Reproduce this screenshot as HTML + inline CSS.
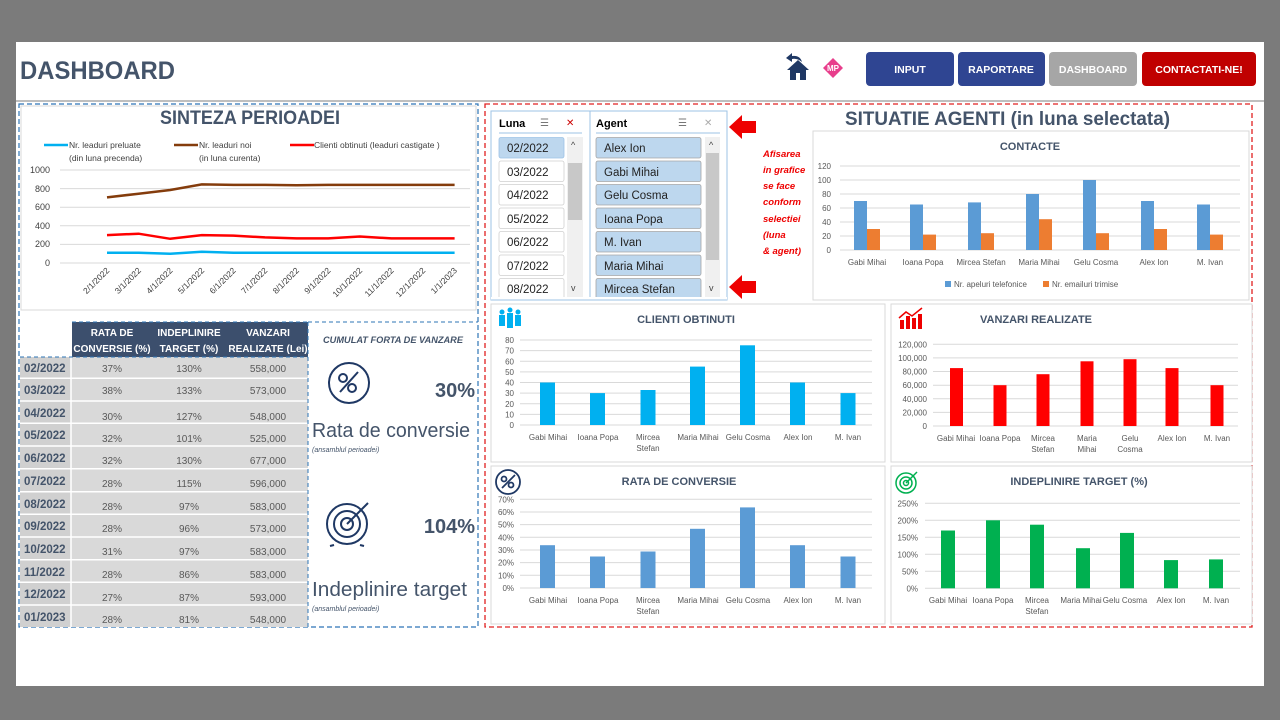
<!DOCTYPE html>
<html><head><meta charset="utf-8"><style>
html,body{margin:0;padding:0;background:#7b7b7b;}
svg{display:block;font-family:"Liberation Sans",sans-serif;}
.t{fill:#44546a;font-weight:bold}
.ax{font-size:8px;fill:#595959}
.g{stroke:#d9d9d9;stroke-width:1}
</style></head><body>
<svg width="1280" height="720" viewBox="0 0 1280 720" xmlns="http://www.w3.org/2000/svg">
<rect x="0" y="0" width="1280" height="720" fill="#7b7b7b"/>
<rect x="16" y="42" width="1248" height="644" fill="#fff"/>
<rect x="16" y="100" width="1248" height="2" fill="#bfbfbf"/>
<text x="20" y="79" class="t" font-size="25" textLength="155" lengthAdjust="spacingAndGlyphs">DASHBOARD</text>
<!-- icons -->
<g fill="#1f3864"><path d="M787 70 L798 60 L809 70 L806 70 L806 80 L800 80 L800 73 L796 73 L796 80 L790 80 L790 70Z"/><path d="M786 58 L792 53 L792 56 Q800 55 802 62 Q797 58 792 59 L792 62Z"/></g>
<path d="M833 58 L843 68 L833 78 L823 68Z" fill="#e83e8c"/><text x="833" y="71" font-size="8" font-weight="bold" fill="#fff" text-anchor="middle">MP</text>
<!-- buttons -->
<rect x="866" y="52" width="88" height="34" rx="4" fill="#2f4592"/><text x="910" y="73" font-size="10.5" font-weight="bold" fill="#fff" text-anchor="middle">INPUT</text>
<rect x="958" y="52" width="87" height="34" rx="4" fill="#2f4592"/><text x="1001" y="73" font-size="10.5" font-weight="bold" fill="#fff" text-anchor="middle">RAPORTARE</text>
<rect x="1049" y="52" width="88" height="34" rx="4" fill="#a6a6a6"/><text x="1093" y="73" font-size="10.5" font-weight="bold" fill="#fff" text-anchor="middle">DASHBOARD</text>
<rect x="1142" y="52" width="114" height="34" rx="4" fill="#c00000"/><text x="1199" y="73" font-size="10.5" font-weight="bold" fill="#fff" text-anchor="middle">CONTACTATI-NE!</text>

<!-- LEFT -->
<rect x="19" y="104" width="459" height="523" fill="none" stroke="#2e75b6" stroke-dasharray="5,3" stroke-width="1.2"/>
<rect x="21" y="106" width="455" height="204" fill="#fff" stroke="#d9d9d9"/>
<text x="160" y="124" class="t" font-size="19" textLength="180" lengthAdjust="spacingAndGlyphs">SINTEZA PERIOADEI</text>
<g font-size="8.5" fill="#404040">
<line x1="44" y1="145" x2="68" y2="145" stroke="#00b0f0" stroke-width="2.5"/><text x="69" y="148">Nr. leaduri preluate</text><text x="69" y="161">(din luna precenda)</text>
<line x1="174" y1="145" x2="198" y2="145" stroke="#843c0c" stroke-width="2.5"/><text x="199" y="148">Nr. leaduri noi</text><text x="199" y="161">(in luna curenta)</text>
<line x1="290" y1="145" x2="314" y2="145" stroke="#ff0000" stroke-width="2.5"/><text x="314" y="148">Clienti obtinuti (leaduri castigate )</text>
</g>
<g class="g"><line x1="60" y1="170" x2="470" y2="170"/><line x1="60" y1="188.6" x2="470" y2="188.6"/><line x1="60" y1="207.2" x2="470" y2="207.2"/><line x1="60" y1="225.8" x2="470" y2="225.8"/><line x1="60" y1="244.4" x2="470" y2="244.4"/><line x1="60" y1="263" x2="470" y2="263"/></g>
<g font-size="9" fill="#404040" text-anchor="end"><text x="50" y="173">1000</text><text x="50" y="192">800</text><text x="50" y="210">600</text><text x="50" y="229">400</text><text x="50" y="247">200</text><text x="50" y="266">0</text></g>
<polyline fill="none" stroke="#843c0c" stroke-width="2.5" points="107,197.4 138.6,193.7 170.2,190 201.8,184.4 233.4,184.9 265,184.9 296.6,185.3 328.2,184.9 359.8,184.9 391.4,184.9 423,184.9 454.6,184.9"/>
<polyline fill="none" stroke="#ff0000" stroke-width="2.5" points="107,235.1 138.6,233.7 170.2,238.8 201.8,235.1 233.4,235.6 265,237.4 296.6,238.4 328.2,238.4 359.8,236.5 391.4,238.4 423,238.4 454.6,238.4"/>
<polyline fill="none" stroke="#00b0f0" stroke-width="2.5" points="107,252.8 138.6,252.8 170.2,253.7 201.8,251.8 233.4,252.8 265,252.8 296.6,252.8 328.2,252.8 359.8,252.8 391.4,252.8 423,252.8 454.6,252.8"/>
<g font-size="8.5" fill="#404040" text-anchor="end">
<text transform="translate(110,271) rotate(-45)">2/1/2022</text><text transform="translate(141.6,271) rotate(-45)">3/1/2022</text><text transform="translate(173.2,271) rotate(-45)">4/1/2022</text><text transform="translate(204.8,271) rotate(-45)">5/1/2022</text><text transform="translate(236.4,271) rotate(-45)">6/1/2022</text><text transform="translate(268,271) rotate(-45)">7/1/2022</text><text transform="translate(299.6,271) rotate(-45)">8/1/2022</text><text transform="translate(331.2,271) rotate(-45)">9/1/2022</text><text transform="translate(362.8,271) rotate(-45)">10/1/2022</text><text transform="translate(394.4,271) rotate(-45)">11/1/2022</text><text transform="translate(426,271) rotate(-45)">12/1/2022</text><text transform="translate(457.6,271) rotate(-45)">1/1/2023</text>
</g>
<!-- table -->
<rect x="72" y="322" width="236" height="35" fill="#3c4f6d"/>
<g font-size="10" font-weight="bold" fill="#fff" text-anchor="middle"><text x="112" y="336">RATA DE</text><text x="112" y="352">CONVERSIE (%)</text><text x="189" y="336">INDEPLINIRE</text><text x="189" y="352">TARGET (%)</text><text x="268" y="336">VANZARI</text><text x="268" y="352">REALIZATE (Lei)</text></g>
<rect x="20" y="357" width="288" height="270" fill="#d9d9d9"/>
<rect x="20" y="357" width="51" height="270" fill="#d0d0d0"/>
<g stroke="#fff" stroke-width="1.5"><line x1="20" y1="378.3" x2="308" y2="378.3"/><line x1="20" y1="401" x2="308" y2="401"/><line x1="20" y1="423.3" x2="308" y2="423.3"/><line x1="20" y1="446" x2="308" y2="446"/><line x1="20" y1="468.7" x2="308" y2="468.7"/><line x1="20" y1="491.7" x2="308" y2="491.7"/><line x1="20" y1="514.3" x2="308" y2="514.3"/><line x1="20" y1="537" x2="308" y2="537"/><line x1="20" y1="559.7" x2="308" y2="559.7"/><line x1="20" y1="582.3" x2="308" y2="582.3"/><line x1="20" y1="605" x2="308" y2="605"/><line x1="71" y1="357" x2="71" y2="627"/></g>
<line x1="20" y1="357" x2="308" y2="357" stroke="#2e75b6" stroke-dasharray="4,3"/>
<g font-size="11.5" font-weight="bold" fill="#44546a"><text x="24" y="372">02/2022</text><text x="24" y="394">03/2022</text><text x="24" y="417">04/2022</text><text x="24" y="439">05/2022</text><text x="24" y="462">06/2022</text><text x="24" y="485">07/2022</text><text x="24" y="508">08/2022</text><text x="24" y="530">09/2022</text><text x="24" y="553">10/2022</text><text x="24" y="576">11/2022</text><text x="24" y="598">12/2022</text><text x="24" y="621">01/2023</text></g>
<g font-size="10" fill="#595959" text-anchor="middle">
<text x="112" y="372">37%</text><text x="189" y="372">130%</text><text x="268" y="372">558,000</text>
<text x="112" y="394">38%</text><text x="189" y="394">133%</text><text x="268" y="394">573,000</text>
<text x="112" y="420">30%</text><text x="189" y="420">127%</text><text x="268" y="420">548,000</text>
<text x="112" y="442">32%</text><text x="189" y="442">101%</text><text x="268" y="442">525,000</text>
<text x="112" y="464">32%</text><text x="189" y="464">130%</text><text x="268" y="464">677,000</text>
<text x="112" y="487">28%</text><text x="189" y="487">115%</text><text x="268" y="487">596,000</text>
<text x="112" y="510">28%</text><text x="189" y="510">97%</text><text x="268" y="510">583,000</text>
<text x="112" y="532">28%</text><text x="189" y="532">96%</text><text x="268" y="532">573,000</text>
<text x="112" y="555">31%</text><text x="189" y="555">97%</text><text x="268" y="555">583,000</text>
<text x="112" y="578">28%</text><text x="189" y="578">86%</text><text x="268" y="578">583,000</text>
<text x="112" y="601">27%</text><text x="189" y="601">87%</text><text x="268" y="601">593,000</text>
<text x="112" y="623">28%</text><text x="189" y="623">81%</text><text x="268" y="623">548,000</text>
</g>
<line x1="308" y1="322" x2="308" y2="627" stroke="#2e75b6" stroke-dasharray="4,3"/>
<line x1="308" y1="322" x2="478" y2="322" stroke="#2e75b6" stroke-dasharray="4,3"/>
<line x1="72" y1="322" x2="308" y2="322" stroke="#2e75b6" stroke-dasharray="4,3"/>
<text x="323" y="343" font-size="9" font-style="italic" font-weight="bold" fill="#44546a" textLength="140" lengthAdjust="spacingAndGlyphs">CUMULAT FORTA DE VANZARE</text>
<g fill="none" stroke="#1f3864" stroke-width="2"><circle cx="349" cy="383" r="20"/><circle cx="343" cy="378" r="4"/><circle cx="352" cy="388" r="4"/><line x1="340" y1="392" x2="358" y2="372"/></g>
<text x="475" y="397" font-size="20" font-weight="bold" fill="#44546a" text-anchor="end">30%</text>
<text x="312" y="437" font-size="20.5" fill="#44546a" textLength="158" lengthAdjust="spacingAndGlyphs">Rata de conversie</text>
<text x="312" y="452" font-size="7" font-style="italic" fill="#44546a">(ansamblul perioadei)</text>
<g fill="none" stroke="#1f3864" stroke-width="2"><circle cx="347" cy="524" r="20"/><circle cx="347" cy="524" r="13"/><circle cx="347" cy="524" r="6"/><line x1="347" y1="524" x2="368" y2="503"/><line x1="334" y1="545" x2="330" y2="546"/><line x1="360" y1="545" x2="364" y2="546"/></g>
<text x="475" y="533" font-size="20" font-weight="bold" fill="#44546a" text-anchor="end">104%</text>
<text x="312" y="596" font-size="20.5" fill="#44546a" textLength="155" lengthAdjust="spacingAndGlyphs">Indeplinire target</text>
<text x="312" y="611" font-size="7" font-style="italic" fill="#44546a">(ansamblul perioadei)</text>

<!-- RIGHT -->
<rect x="485" y="104" width="767" height="523" fill="none" stroke="#e02020" stroke-dasharray="5,3" stroke-width="1.3"/>
<!-- slicers -->
<rect x="491" y="111" width="236" height="189" fill="#fff" stroke="#9dc3e6"/>
<line x1="590" y1="111" x2="590" y2="300" stroke="#9dc3e6"/>
<text x="499" y="127" font-size="11" font-weight="bold" fill="#000">Luna</text>
<text x="596" y="127" font-size="11" font-weight="bold" fill="#000">Agent</text>
<text x="540" y="126" font-size="10" fill="#777">☰</text><text x="566" y="126" font-size="10" fill="#c00">✕</text>
<text x="678" y="126" font-size="10" fill="#777">☰</text><text x="704" y="126" font-size="10" fill="#aaa">✕</text>
<line x1="499" y1="133" x2="582" y2="133" stroke="#9dc3e6"/><line x1="596" y1="133" x2="720" y2="133" stroke="#9dc3e6"/>
<rect x="567" y="137" width="16" height="160" fill="#f0f0f0"/><rect x="568" y="163" width="14" height="57" fill="#c8c8c8"/>
<rect x="705" y="137" width="15" height="160" fill="#f0f0f0"/><rect x="706" y="153" width="13" height="107" fill="#c8c8c8"/>
<text x="571" y="148" font-size="9" fill="#444">^</text><text x="571" y="291" font-size="9" fill="#444">v</text>
<text x="709" y="148" font-size="9" fill="#444">^</text><text x="709" y="291" font-size="9" fill="#444">v</text>
<g stroke="#a6a6a6" stroke-width="0.8">
<rect x="499" y="137.5" width="65" height="20.5" rx="2" fill="#bdd7ee" stroke="#9dc3e6"/>
<rect x="499" y="161" width="65" height="20.5" rx="2" fill="#fff" stroke="#d0d0d0"/>
<rect x="499" y="184.5" width="65" height="20.5" rx="2" fill="#fff" stroke="#d0d0d0"/>
<rect x="499" y="208" width="65" height="20.5" rx="2" fill="#fff" stroke="#d0d0d0"/>
<rect x="499" y="231.5" width="65" height="20.5" rx="2" fill="#fff" stroke="#d0d0d0"/>
<rect x="499" y="255" width="65" height="20.5" rx="2" fill="#fff" stroke="#d0d0d0"/>
<rect x="499" y="278.5" width="65" height="20.5" rx="2" fill="#fff" stroke="#d0d0d0"/>
<rect x="596" y="137.5" width="105" height="20.5" rx="2" fill="#bdd7ee"/>
<rect x="596" y="161" width="105" height="20.5" rx="2" fill="#bdd7ee"/>
<rect x="596" y="184.5" width="105" height="20.5" rx="2" fill="#bdd7ee"/>
<rect x="596" y="208" width="105" height="20.5" rx="2" fill="#bdd7ee"/>
<rect x="596" y="231.5" width="105" height="20.5" rx="2" fill="#bdd7ee"/>
<rect x="596" y="255" width="105" height="20.5" rx="2" fill="#bdd7ee"/>
<rect x="596" y="278.5" width="105" height="20.5" rx="2" fill="#bdd7ee"/>
</g>
<rect x="491" y="297" width="236" height="4" fill="#fff"/>
<line x1="491" y1="300" x2="727" y2="300" stroke="#9dc3e6"/>
<g font-size="11.5" fill="#222"><text x="507" y="152">02/2022</text><text x="507" y="176">03/2022</text><text x="507" y="199">04/2022</text><text x="507" y="223">05/2022</text><text x="507" y="246">06/2022</text><text x="507" y="270">07/2022</text><text x="507" y="293">08/2022</text>
<text x="604" y="152">Alex Ion</text><text x="604" y="176">Gabi Mihai</text><text x="604" y="199">Gelu Cosma</text><text x="604" y="223">Ioana Popa</text><text x="604" y="246">M. Ivan</text><text x="604" y="270">Maria Mihai</text><text x="604" y="293">Mircea Stefan</text></g>
<path d="M729 127 L742 115 L742 121 L756 121 L756 133 L742 133 L742 139Z" fill="#e00"/>
<path d="M729 287 L742 275 L742 281 L756 281 L756 293 L742 293 L742 299Z" fill="#e00"/>
<g font-size="9.5" font-style="italic" font-weight="bold" fill="#e00"><text x="763" y="157">Afisarea</text><text x="763" y="173">in grafice</text><text x="763" y="189">se face</text><text x="763" y="205">conform</text><text x="763" y="222">selectiei</text><text x="763" y="238">(luna</text><text x="763" y="254">&amp; agent)</text></g>
<text x="845" y="125" class="t" font-size="19" textLength="325" lengthAdjust="spacingAndGlyphs">SITUATIE AGENTI (in luna selectata)</text>

<!-- Contacte -->
<rect x="813" y="131" width="436" height="169" fill="#fff" stroke="#d9d9d9"/>
<text x="1030" y="150" class="t" font-size="11" text-anchor="middle">CONTACTE</text>
<g class="g"><line x1="840" y1="166" x2="1240" y2="166"/><line x1="840" y1="180" x2="1240" y2="180"/><line x1="840" y1="194" x2="1240" y2="194"/><line x1="840" y1="208" x2="1240" y2="208"/><line x1="840" y1="222" x2="1240" y2="222"/><line x1="840" y1="236" x2="1240" y2="236"/><line x1="840" y1="250" x2="1240" y2="250"/></g>
<g class="ax" text-anchor="end"><text x="831" y="169">120</text><text x="831" y="183">100</text><text x="831" y="197">80</text><text x="831" y="211">60</text><text x="831" y="225">40</text><text x="831" y="239">20</text><text x="831" y="253">0</text></g>
<g fill="#5b9bd5"><rect x="854" y="201" width="13" height="49"/><rect x="910" y="204.5" width="13" height="45.5"/><rect x="968" y="202.4" width="13" height="47.6"/><rect x="1026" y="194" width="13" height="56"/><rect x="1083" y="180" width="13" height="70"/><rect x="1141" y="201" width="13" height="49"/><rect x="1197" y="204.5" width="13" height="45.5"/></g>
<g fill="#ed7d31"><rect x="867" y="229" width="13" height="21"/><rect x="923" y="234.6" width="13" height="15.4"/><rect x="981" y="233.2" width="13" height="16.8"/><rect x="1039" y="219.2" width="13" height="30.8"/><rect x="1096" y="233.2" width="13" height="16.8"/><rect x="1154" y="229" width="13" height="21"/><rect x="1210" y="234.6" width="13" height="15.4"/></g>
<g class="ax" text-anchor="middle"><text x="867" y="265">Gabi Mihai</text><text x="923" y="265">Ioana Popa</text><text x="981" y="265">Mircea Stefan</text><text x="1039" y="265">Maria Mihai</text><text x="1096" y="265">Gelu Cosma</text><text x="1154" y="265">Alex Ion</text><text x="1210" y="265">M. Ivan</text></g>
<rect x="945" y="281" width="6" height="6" fill="#5b9bd5"/><text x="954" y="287" class="ax">Nr. apeluri telefonice</text>
<rect x="1043" y="281" width="6" height="6" fill="#ed7d31"/><text x="1052" y="287" class="ax">Nr. emailuri trimise</text>

<!-- Clienti -->
<rect x="491" y="304" width="394" height="158" fill="#fff" stroke="#d9d9d9"/>
<text x="686" y="323" class="t" font-size="11" text-anchor="middle">CLIENTI OBTINUTI</text>
<g fill="#00b0f0"><circle cx="502" cy="312" r="2.5"/><circle cx="510" cy="310" r="2.5"/><circle cx="518" cy="312" r="2.5"/><rect x="499" y="315" width="6" height="11"/><rect x="507" y="313" width="6" height="15"/><rect x="515" y="315" width="6" height="11"/></g>
<g class="g"><line x1="520" y1="340" x2="872" y2="340"/><line x1="520" y1="350.6" x2="872" y2="350.6"/><line x1="520" y1="361.3" x2="872" y2="361.3"/><line x1="520" y1="371.9" x2="872" y2="371.9"/><line x1="520" y1="382.5" x2="872" y2="382.5"/><line x1="520" y1="393.1" x2="872" y2="393.1"/><line x1="520" y1="403.8" x2="872" y2="403.8"/><line x1="520" y1="414.4" x2="872" y2="414.4"/><line x1="520" y1="425" x2="872" y2="425"/></g>
<g class="ax" text-anchor="end"><text x="514" y="343">80</text><text x="514" y="353.6">70</text><text x="514" y="364.3">60</text><text x="514" y="374.9">50</text><text x="514" y="385.5">40</text><text x="514" y="396.1">30</text><text x="514" y="406.8">20</text><text x="514" y="417.4">10</text><text x="514" y="428">0</text></g>
<g fill="#00b0f0"><rect x="540" y="382.5" width="15" height="42.5"/><rect x="590" y="393.1" width="15" height="31.9"/><rect x="640.5" y="390" width="15" height="35"/><rect x="690" y="366.6" width="15" height="58.4"/><rect x="740" y="345.3" width="15" height="79.7"/><rect x="790" y="382.5" width="15" height="42.5"/><rect x="840.5" y="393.1" width="15" height="31.9"/></g>
<g class="ax" text-anchor="middle"><text x="548" y="440">Gabi Mihai</text><text x="598" y="440">Ioana Popa</text><text x="648" y="440">Mircea</text><text x="648" y="451">Stefan</text><text x="698" y="440">Maria Mihai</text><text x="748" y="440">Gelu Cosma</text><text x="798" y="440">Alex Ion</text><text x="848" y="440">M. Ivan</text></g>

<!-- Rata -->
<rect x="491" y="466" width="394" height="158" fill="#fff" stroke="#d9d9d9"/>
<text x="679" y="485" class="t" font-size="11" text-anchor="middle">RATA DE CONVERSIE</text>
<g fill="none" stroke="#1f3864" stroke-width="1.8"><circle cx="508" cy="482" r="12"/><circle cx="504" cy="479" r="2.5"/><circle cx="511" cy="485" r="2.5"/><line x1="502" y1="488" x2="515" y2="475"/></g>
<g class="g"><line x1="520" y1="499.3" x2="872" y2="499.3"/><line x1="520" y1="512" x2="872" y2="512"/><line x1="520" y1="524.6" x2="872" y2="524.6"/><line x1="520" y1="537.3" x2="872" y2="537.3"/><line x1="520" y1="550" x2="872" y2="550"/><line x1="520" y1="562.6" x2="872" y2="562.6"/><line x1="520" y1="575.3" x2="872" y2="575.3"/><line x1="520" y1="588" x2="872" y2="588"/></g>
<g class="ax" text-anchor="end"><text x="514" y="502.3">70%</text><text x="514" y="515">60%</text><text x="514" y="527.6">50%</text><text x="514" y="540.3">40%</text><text x="514" y="553">30%</text><text x="514" y="565.6">20%</text><text x="514" y="578.3">10%</text><text x="514" y="591">0%</text></g>
<g fill="#5b9bd5"><rect x="540" y="545.2" width="15" height="42.8"/><rect x="590" y="556.5" width="15" height="31.5"/><rect x="640.5" y="551.5" width="15" height="36.5"/><rect x="690" y="528.8" width="15" height="59.2"/><rect x="740" y="507.4" width="15" height="80.6"/><rect x="790" y="545.2" width="15" height="42.8"/><rect x="840.5" y="556.5" width="15" height="31.5"/></g>
<g class="ax" text-anchor="middle"><text x="548" y="603">Gabi Mihai</text><text x="598" y="603">Ioana Popa</text><text x="648" y="603">Mircea</text><text x="648" y="614">Stefan</text><text x="698" y="603">Maria Mihai</text><text x="748" y="603">Gelu Cosma</text><text x="798" y="603">Alex Ion</text><text x="848" y="603">M. Ivan</text></g>

<!-- Vanzari -->
<rect x="891" y="304" width="361" height="158" fill="#fff" stroke="#d9d9d9"/>
<text x="1036" y="323" class="t" font-size="11" text-anchor="middle">VANZARI REALIZATE</text>
<g fill="#e00"><rect x="900" y="320" width="4" height="9"/><rect x="906" y="316" width="4" height="13"/><rect x="912" y="318" width="4" height="11"/><rect x="918" y="314" width="4" height="15"/></g>
<polyline points="899,318 906,312 912,316 922,308" fill="none" stroke="#e00" stroke-width="1.5"/>
<g class="g"><line x1="933" y1="344.3" x2="1238" y2="344.3"/><line x1="933" y1="357.9" x2="1238" y2="357.9"/><line x1="933" y1="371.5" x2="1238" y2="371.5"/><line x1="933" y1="385.2" x2="1238" y2="385.2"/><line x1="933" y1="398.8" x2="1238" y2="398.8"/><line x1="933" y1="412.4" x2="1238" y2="412.4"/><line x1="933" y1="426" x2="1238" y2="426"/></g>
<g class="ax" text-anchor="end"><text x="927" y="347.3">120,000</text><text x="927" y="360.9">100,000</text><text x="927" y="374.5">80,000</text><text x="927" y="388.2">60,000</text><text x="927" y="401.8">40,000</text><text x="927" y="415.4">20,000</text><text x="927" y="429">0</text></g>
<g fill="#ff0000"><rect x="950" y="368.1" width="13" height="57.9"/><rect x="993.5" y="385.2" width="13" height="40.8"/><rect x="1036.5" y="374.2" width="13" height="51.8"/><rect x="1080.5" y="361.3" width="13" height="64.7"/><rect x="1123.5" y="359.2" width="13" height="66.8"/><rect x="1165.5" y="368.1" width="13" height="57.9"/><rect x="1210.5" y="385.2" width="13" height="40.8"/></g>
<g class="ax" text-anchor="middle"><text x="956" y="441">Gabi Mihai</text><text x="1000" y="441">Ioana Popa</text><text x="1043" y="441">Mircea</text><text x="1043" y="452">Stefan</text><text x="1087" y="441">Maria</text><text x="1087" y="452">Mihai</text><text x="1130" y="441">Gelu</text><text x="1130" y="452">Cosma</text><text x="1172" y="441">Alex Ion</text><text x="1217" y="441">M. Ivan</text></g>

<!-- Indeplinire -->
<rect x="891" y="466" width="361" height="158" fill="#fff" stroke="#d9d9d9"/>
<text x="1079" y="485" class="t" font-size="11" text-anchor="middle">INDEPLINIRE TARGET (%)</text>
<g fill="none" stroke="#00b050" stroke-width="1.5"><circle cx="906" cy="483" r="10"/><circle cx="906" cy="483" r="6"/><circle cx="906" cy="483" r="2.5"/><line x1="906" y1="483" x2="917" y2="472"/></g>
<g class="g"><line x1="925" y1="503.3" x2="1240" y2="503.3"/><line x1="925" y1="520.3" x2="1240" y2="520.3"/><line x1="925" y1="537.3" x2="1240" y2="537.3"/><line x1="925" y1="554.3" x2="1240" y2="554.3"/><line x1="925" y1="571.3" x2="1240" y2="571.3"/><line x1="925" y1="588.3" x2="1240" y2="588.3"/></g>
<g class="ax" text-anchor="end"><text x="918" y="506.3">250%</text><text x="918" y="523.3">200%</text><text x="918" y="540.3">150%</text><text x="918" y="557.3">100%</text><text x="918" y="574.3">50%</text><text x="918" y="591.3">0%</text></g>
<g fill="#00b050"><rect x="941" y="530.5" width="14" height="57.8"/><rect x="986" y="520.3" width="14" height="68"/><rect x="1030" y="524.7" width="14" height="63.6"/><rect x="1076" y="548.2" width="14" height="40.1"/><rect x="1120" y="532.9" width="14" height="55.4"/><rect x="1164" y="560.1" width="14" height="28.2"/><rect x="1209" y="559.4" width="14" height="28.9"/></g>
<g class="ax" text-anchor="middle"><text x="948" y="603">Gabi Mihai</text><text x="993" y="603">Ioana Popa</text><text x="1037" y="603">Mircea</text><text x="1037" y="614">Stefan</text><text x="1081" y="603">Maria Mihai</text><text x="1125" y="603">Gelu Cosma</text><text x="1171" y="603">Alex Ion</text><text x="1216" y="603">M. Ivan</text></g>
</svg>
</body></html>
